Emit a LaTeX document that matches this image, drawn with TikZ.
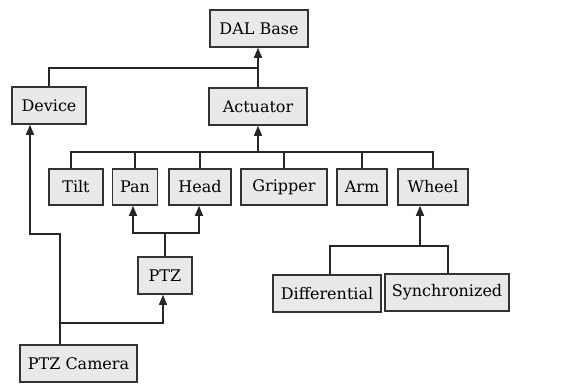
\documentclass[tikz,border=0pt]{standalone}
\usepackage{fontspec}
\setmainfont{DejaVu Serif}
\usepackage{tikz}
\usetikzlibrary{arrows.meta}
\definecolor{boxfill}{HTML}{E9E9E9}
\definecolor{boxline}{HTML}{333333}

\begin{document}
\begin{tikzpicture}[x=1pt,y=-1pt,
  cls/.style={draw=boxline,fill=boxfill,line width=1.6pt,minimum height=37pt,inner sep=0pt,font=\fontsize{16}{18}\selectfont},
  link/.style={line width=1.4pt,black!85},
  arr/.style={link,-{Triangle[width=8pt,length=10pt]}}]
\useasboundingbox (0,0) rectangle (565,383);
\node[cls,minimum width=98pt] (dal) at (259,28.5) {DAL Base};
\node[cls,minimum width=74pt] (device) at (49,105.5) {Device};
\node[cls,minimum width=98pt] (actuator) at (258,106.5) {Actuator};
\node[cls,minimum width=54pt,minimum height=36pt] (tilt) at (76,187) {Tilt};
\node[cls,minimum width=45pt,minimum height=36pt] (pan) at (135,187) {Pan};
\node[cls,minimum width=62pt,minimum height=36pt] (head) at (200,187) {Head};
\node[cls,minimum width=86pt,minimum height=36pt] (gripper) at (284,187) {Gripper};
\node[cls,minimum width=50pt,minimum height=36pt] (arm) at (362,187) {Arm};
\node[cls,minimum width=70pt,minimum height=36pt] (wheel) at (433,187) {Wheel};
\node[cls,minimum width=54pt] (ptz) at (165,275.5) {PTZ};
\node[cls,minimum width=117pt] (cam) at (78.5,363.5) {PTZ Camera};
\node[cls,minimum width=108pt] (diff) at (327,293.5) {Differential};
\node[cls,minimum width=124pt] (sync) at (447,292.5) {Synchronized};
% junctions
\coordinate (kA) at (258,68);
\coordinate (kB) at (258,152);
\coordinate (kD) at (30,234);
\coordinate (kC) at (60,323);
\coordinate (kP) at (165,233);
\coordinate (kW) at (420,246);
% base classes
\draw[arr] (actuator.north) -- (actuator.north |- dal.south);
\draw[link] (device.north) |- (kA);
\draw[arr] (kB) -- (actuator.south);
\draw[link] ([xshift=-5pt]tilt.north) |- (kB);
\foreach \n in {pan,head,gripper,arm,wheel}{\draw[link] (\n.north) |- (kB);}
% camera
\draw[arr] ([xshift=-18.5pt]cam.north) |- (kD) -- (kD |- device.south);
\draw[arr] (kC) -| ([xshift=-2pt]ptz.south);
\draw[link] (ptz.north) -- (kP);
\draw[arr] (kP) -| ([xshift=-2pt]pan.south);
\draw[arr] (kP) -| ([xshift=-1pt]head.south);
% wheels
\draw[arr] (kW) -- (kW |- wheel.south);
\draw[link] ([xshift=3pt]diff.north) |- (kW);
\draw[link] ([xshift=1pt]sync.north) |- (kW);
\end{tikzpicture}
\end{document}
